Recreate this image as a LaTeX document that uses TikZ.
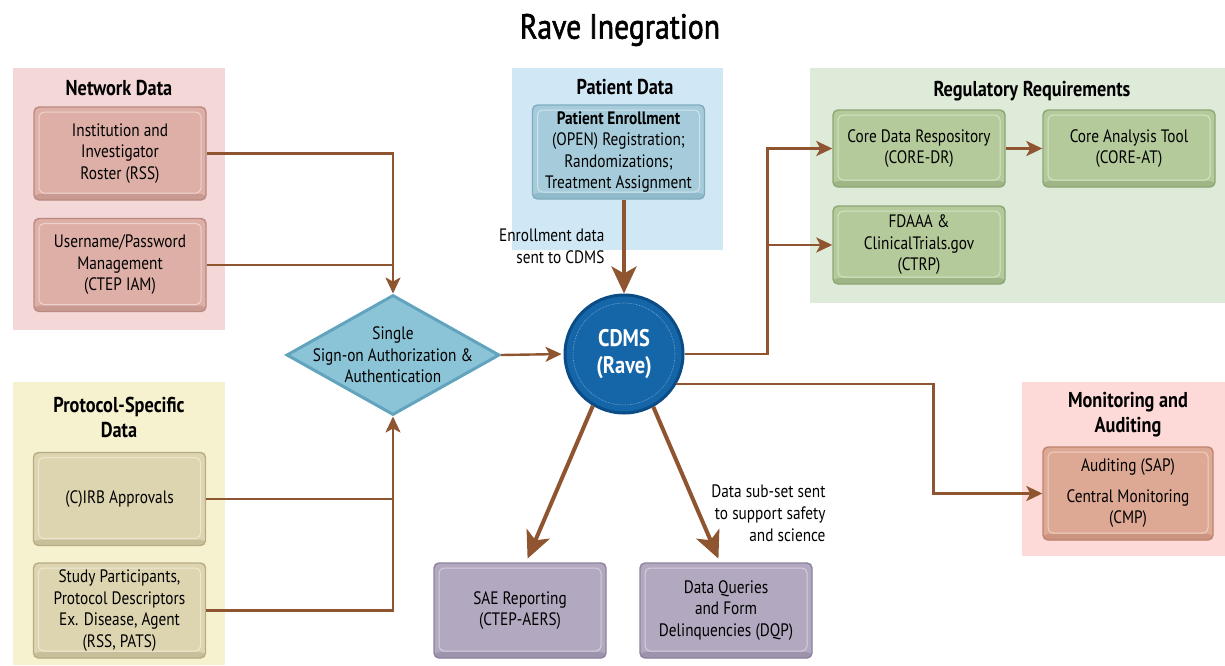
\documentclass[tikz,border=0pt]{standalone}
\usepackage{fontspec}
\setmainfont{PT Sans}[FakeStretch=0.85]
\newfontfamily\titlefont{PT Sans}[FakeStretch=0.85, FakeBold=1.6]
\usetikzlibrary{positioning,arrows.meta,shapes.geometric,calc,backgrounds}

\definecolor{arrowc}{RGB}{142,85,48}
\definecolor{netbg}{RGB}{244,215,215}
\definecolor{netfill}{RGB}{221,175,166}
\definecolor{netrim}{RGB}{186,138,130}
\definecolor{protobg}{RGB}{246,241,207}
\definecolor{protofill}{RGB}{221,213,176}
\definecolor{protorim}{RGB}{182,173,135}
\definecolor{patbg}{RGB}{208,231,245}
\definecolor{patfill}{RGB}{166,204,219}
\definecolor{patrim}{RGB}{128,172,190}
\definecolor{regbg}{RGB}{223,235,217}
\definecolor{regfill}{RGB}{180,202,154}
\definecolor{regrim}{RGB}{140,166,116}
\definecolor{monbg}{RGB}{253,218,215}
\definecolor{monfill}{RGB}{221,168,148}
\definecolor{monrim}{RGB}{190,132,110}
\definecolor{repfill}{RGB}{178,168,191}
\definecolor{reprim}{RGB}{140,130,158}
\definecolor{ssofill}{RGB}{140,196,215}
\definecolor{ssorim}{RGB}{98,164,190}
\definecolor{cdmsfill}{RGB}{21,102,169}
\definecolor{cdmsrim}{RGB}{12,76,134}

\begin{document}
\begin{tikzpicture}[
  x=1pt, y=-1pt,
  font=\fontsize{18}{21.5}\selectfont,
  >={Stealth[length=16pt,width=15pt,inset=4pt]},
  panel/.style   = {fill=#1, inner sep=0pt, anchor=north west},
  hdr/.style     = {font=\fontsize{21.5}{25}\selectfont\bfseries, align=center},
  tile/.style 2 args = {rounded corners=5pt, fill=#1, draw=#2, line width=1.4pt,
                    align=center, inner sep=3pt, minimum width=172pt,
                    minimum height=93pt,
                    path picture={
                      \fill[#2, opacity=0.55]
                        (path picture bounding box.south west) rectangle
                        ([yshift=6pt]path picture bounding box.south east);
                      \draw[white, opacity=0.45, line width=1pt]
                        ([shift={(5pt,-5pt)}]path picture bounding box.north west)
                        rectangle
                        ([shift={(-5pt,7pt)}]path picture bounding box.south east);}},
  note/.style    = {font=\fontsize{18}{22}\selectfont, align=right, anchor=east},
  link/.style    = {draw=arrowc, line width=2.4pt},
  flow/.style    = {link, ->},
  bigflow/.style = {draw=arrowc, line width=4pt,
                    -{Stealth[length=27pt,width=25pt,inset=7pt]}}
]
\useasboundingbox (0,0) rectangle (1225,665);

% ============================ background panels ============================
\node[panel=netbg,   minimum width=212pt, minimum height=262pt] (netpanel)   at (13,68)   {};
\node[panel=protobg, minimum width=212pt, minimum height=283pt] (protopanel) at (13,382)  {};
\node[panel=patbg,   minimum width=211pt, minimum height=182pt] (patpanel)   at (512,68)  {};
\node[panel=regbg,   minimum width=415pt, minimum height=235pt] (regpanel)   at (810,68)  {};
\node[panel=monbg,   minimum width=203pt, minimum height=174pt] (monpanel)   at (1022,382) {};

\node[font=\fontsize{35}{40}\titlefont] (title) at (620,30) {Rave Inegration};

% ============================== network data ===============================
\node[hdr] (nethdr) at (119,88) {Network Data};
\node[tile={netfill}{netrim}] (roster) at (120,153.5)
  {Institution and\\Investigator\\Roster (RSS)};
\node[tile={netfill}{netrim}] (iam) at (120,265)
  {Username/Password\\Management\\(CTEP IAM)};

% ========================== protocol-specific data =========================
\node[hdr] (protohdr) at (119,417) {Protocol-Specific\\Data};
\node[tile={protofill}{protorim}] (cirb) at (119.5,499) {(C)IRB Approvals};
\node[tile={protofill}{protorim}, minimum height=95pt] (study) at (119.5,610.5)
  {Study Participants,\\Protocol Descriptors\\Ex. Disease, Agent\\(RSS, PATS)};

% ============================ single sign-on ===============================
\node[diamond, minimum width=213pt, minimum height=120pt, inner sep=0pt,
      fill=ssofill, draw=ssorim, line width=3pt] (sso) at (393,355) {};
\node[align=center] (ssotxt) at (sso.center)
  {Single\\Sign-on Authorization \&\\Authentication};

% ================================ CDMS =====================================
\node[circle, minimum size=118pt, inner sep=0pt, fill=cdmsfill, draw=cdmsrim,
      line width=3pt, text=white, align=center,
      font=\fontsize{24}{27}\selectfont\bfseries] (cdms) at (624,354)
  {CDMS\\(Rave)};
\draw[white, opacity=0.5, densely dotted, line width=0.6pt]
  (cdms.center) circle[radius=51pt];

% ============================== patient data ===============================
\node[hdr] (pathdr) at (625,87) {Patient Data};
\node[tile={patfill}{patrim}, minimum height=94pt] (enroll) at (618.5,152)
  {\textbf{Patient Enrollment}\\(OPEN) Registration;\\Randomizations;\\Treatment Assignment};
\node[note] (enrnote) at (608,246) {Enrollment data\\sent to CDMS};

% ========================= regulatory requirements =========================
\node[hdr] (reghdr) at (1032,91) {Regulatory Requirements};
\node[tile={regfill}{regrim}, minimum height=77pt] (coredr) at (919,148.5)
  {Core Data Respository\\(CORE-DR)};
\node[tile={regfill}{regrim}, minimum height=77pt] (coreat) at (1129,148.5)
  {Core Analysis Tool\\(CORE-AT)};
\node[tile={regfill}{regrim}, minimum height=78pt] (fdaaa) at (919,245)
  {FDAAA \&\\ClinicalTrials.gov\\(CTRP)};

% ========================= monitoring and auditing =========================
\node[hdr] (monhdr) at (1128,415) {Monitoring and\\Auditing};
\node[tile={monfill}{monrim}, minimum width=170pt] (monbox) at (1128,493.5)
  {Auditing (SAP)\\[9pt]Central Monitoring\\(CMP)};

% ============================ reporting boxes ==============================
\node[tile={repfill}{reprim}, minimum height=95pt] (sae) at (520,610.5)
  {SAE Reporting\\(CTEP-AERS)};
\node[tile={repfill}{reprim}, minimum height=95pt] (dqp) at (726,610.5)
  {Data Queries\\and Form\\Delinquencies (DQP)};
\node[note] (dqpnote) at (829,513) {Data sub-set sent\\to support safety\\and science};

% =============================== connectors ================================
\draw[flow] (roster.east) -| (sso.north);
\draw[link] (iam.east) -- (iam.east -| sso.north);
\draw[flow] (study.east) -| (sso.south);
\draw[link] (cirb.east) -- (cirb.east -| sso.south);
\draw[flow, shorten >=2pt] (sso.east) -- (cdms.west);

\draw[bigflow] (enroll.south -| cdms.north) -- (cdms.north);

\draw[flow] (cdms.east) -- ++(83,0) coordinate (regjoin) |- (coredr.west);
\draw[flow] (regjoin) |- (fdaaa.west);
\draw[flow] (coredr) -- (coreat);

\draw[flow] (cdms.-30) -- ++(257,0) |- (monbox.west);

\draw[bigflow, shorten >=4pt] (cdms.-121) -- ([xshift=6pt]sae.north);
\draw[bigflow, shorten >=4pt] (cdms.-61) -- ([xshift=-6pt]dqp.north);

\end{tikzpicture}
\end{document}
